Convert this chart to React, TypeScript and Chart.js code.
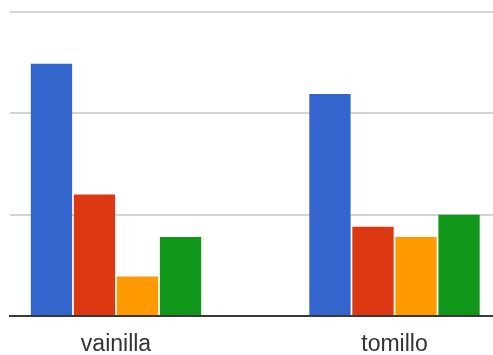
import React, { useEffect, useRef } from "react";
import { Chart, registerables } from "chart.js";

Chart.register(...registerables);

// Flavours along the horizontal axis
const categories = ["vainilla", "tomillo"];

// One series per bar colour, one value per flavour
const seriesNames = ["Serie 1", "Serie 2", "Serie 3", "Serie 4"];
const blueValues = [2.49, 2.19];
const redValues = [1.2, 0.88];
const orangeValues = [0.39, 0.78];
const greenValues = [0.78, 1.0];

// Value axis gridlines
const yTicks = [0, 1, 2, 3];

const colors = ["#3366cc", "#dc3912", "#ff9900", "#109618"];

export default function App() {
  const canvasRef = useRef<HTMLCanvasElement | null>(null);

  useEffect(() => {
    const canvas = canvasRef.current;
    if (!canvas) return;
    const seriesValues = [blueValues, redValues, orangeValues, greenValues];

    const chart = new Chart(canvas, {
      type: "bar",
      data: {
        datasets: seriesValues.map((vals, i) => ({
          label: seriesNames[i],
          data: vals.map((v, j) => ({ x: j, y: v })),
          backgroundColor: colors[i],
          borderWidth: 0,
          categoryPercentage: 0.618,
          barPercentage: 0.96,
        })),
      },
      options: {
        animation: false,
        responsive: false,
        maintainAspectRatio: false,
        layout: { padding: { left: 10, right: 0, top: 12, bottom: 0 } },
        plugins: {
          legend: { display: false },
          tooltip: { enabled: false },
        },
        scales: {
          x: {
            type: "linear",
            offset: false,
            min: -0.3806,
            max: 1.3537,
            afterBuildTicks: (scale: any) => {
              scale.ticks = categories.map((_, i) => ({ value: i }));
            },
            afterFit: (scale: any) => {
              scale.height = 39;
            },
            grid: { display: false, drawTicks: false, offset: false },
            border: { display: true, color: "#383838", width: 2 },
            ticks: {
              autoSkip: false,
              maxRotation: 0,
              padding: 15,
              color: "#333333",
              font: { family: "Liberation Sans, Arial, sans-serif", size: 23 },
              callback: (v: any) => categories[Math.round(Number(v))] ?? "",
            },
          },
          y: {
            min: yTicks[0],
            max: yTicks[yTicks.length - 1],
            afterBuildTicks: (scale: any) => {
              scale.ticks = yTicks.map((v) => ({ value: v }));
            },
            afterFit: (scale: any) => {
              scale.width = 0;
            },
            grid: { color: "#d4d4d4", lineWidth: 2, drawTicks: false },
            border: { display: false },
            ticks: { display: false },
          },
        },
      },
    });
    return () => chart.destroy();
  }, []);

  return (
    <div style={{ position: "absolute", left: 0, top: 0, width: 493, height: 355, background: "#ffffff" }}>
      <canvas ref={canvasRef} width={493} height={355} style={{ display: "block", width: 493, height: 355 }} />
    </div>
  );
}
